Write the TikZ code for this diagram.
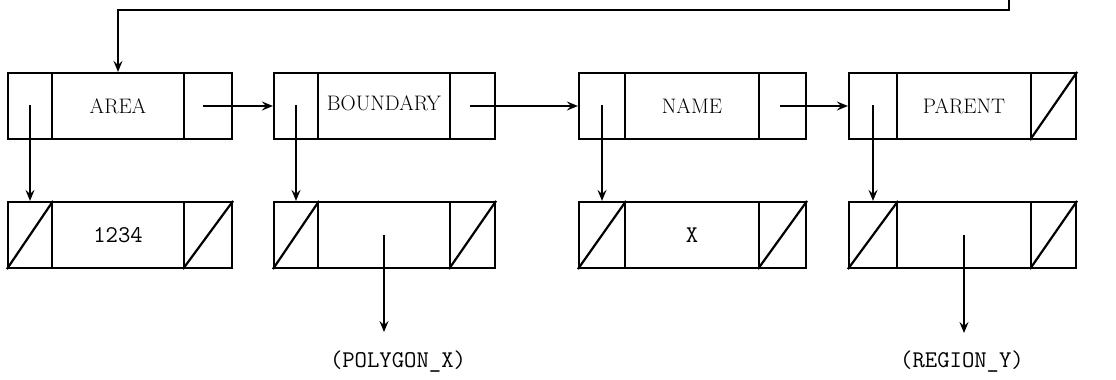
\documentclass[tikz,border=0pt]{standalone}
\usetikzlibrary{arrows.meta,calc}
\tikzset{
  cell/.style={draw, line width=2.2pt, inner sep=0pt, minimum height=66pt, font=\fontsize{21}{24}\selectfont},
  ttcell/.style={cell, font=\fontsize{24}{28}\selectfont\ttfamily},
  arr/.style={line width=1.9pt, -{Stealth[length=11pt,width=9pt,inset=4pt]}},
  lbl/.style={font=\fontsize{24}{28}\selectfont\ttfamily, inner sep=0pt},
  diag/.style={line width=2.2pt},
}
% #1 name, #2-#5 x positions, #6 top y, #7 style of middle, #8 text
\newcommand{\recnode}[8]{%
  \node[cell, minimum width={#3-#2}] (#1l) at ({(#2+#3)/2},{#6+33}) {};
  \node[#7, minimum width={#4-#3}] (#1m) at ({(#3+#4)/2},{#6+33}) {#8};
  \node[cell, minimum width={#5-#4}] (#1r) at ({(#4+#5)/2},{#6+33}) {};
}
\begin{document}
\begin{tikzpicture}[x=1pt,y=-1pt]
\useasboundingbox (0,0) rectangle (1116,380);
% top row
\recnode{a1}{8}{52}{184}{232}{73}{cell}{AREA}
\recnode{a2}{274}{318}{450}{495}{73}{cell}{\raisebox{5pt}{BOUNDARY}}
\recnode{a3}{579}{625}{759}{806}{73}{cell}{NAME}
\recnode{a4}{849}{897}{1031}{1076}{73}{cell}{PARENT}
% bottom row
\recnode{b1}{8}{52}{184}{232}{202}{ttcell}{1234}
\recnode{b2}{274}{318}{450}{495}{202}{ttcell}{}
\recnode{b3}{579}{625}{759}{806}{202}{ttcell}{X}
\recnode{b4}{849}{897}{1031}{1076}{202}{ttcell}{}
% nil diagonals
\foreach \n in {a4r,b1l,b1r,b2l,b2r,b3l,b3r,b4l,b4r}
  \draw[diag] (\n.south west) -- (\n.north east);
% feedback connector
\coordinate (fb) at (1009,0);
\draw[arr] (fb) -- ++(0,10) -| (a1m.north);
% next pointers
\draw[arr] ([xshift=-5pt]a1r.center) -- (a2l.west);
\draw[arr] ([xshift=-3pt]a2r.center) -- (a3l.west);
\draw[arr] ([xshift=-3pt]a3r.center) -- (a4l.west);
% value pointers
\foreach \i in {1,2,3,4}
  \draw[arr] ([yshift=1pt]a\i l.center) -- (b\i l.north);
% labels
\node[lbl] (px) at (398,362) {(POLYGON\_X)};
\node[lbl] (ry) at (962,362) {(REGION\_Y)};
\draw[arr] (b2m.center) -- (b2m.center |- 0,332);
\draw[arr] (b4m.center) -- (b4m.center |- 0,333);
\end{tikzpicture}
\end{document}
